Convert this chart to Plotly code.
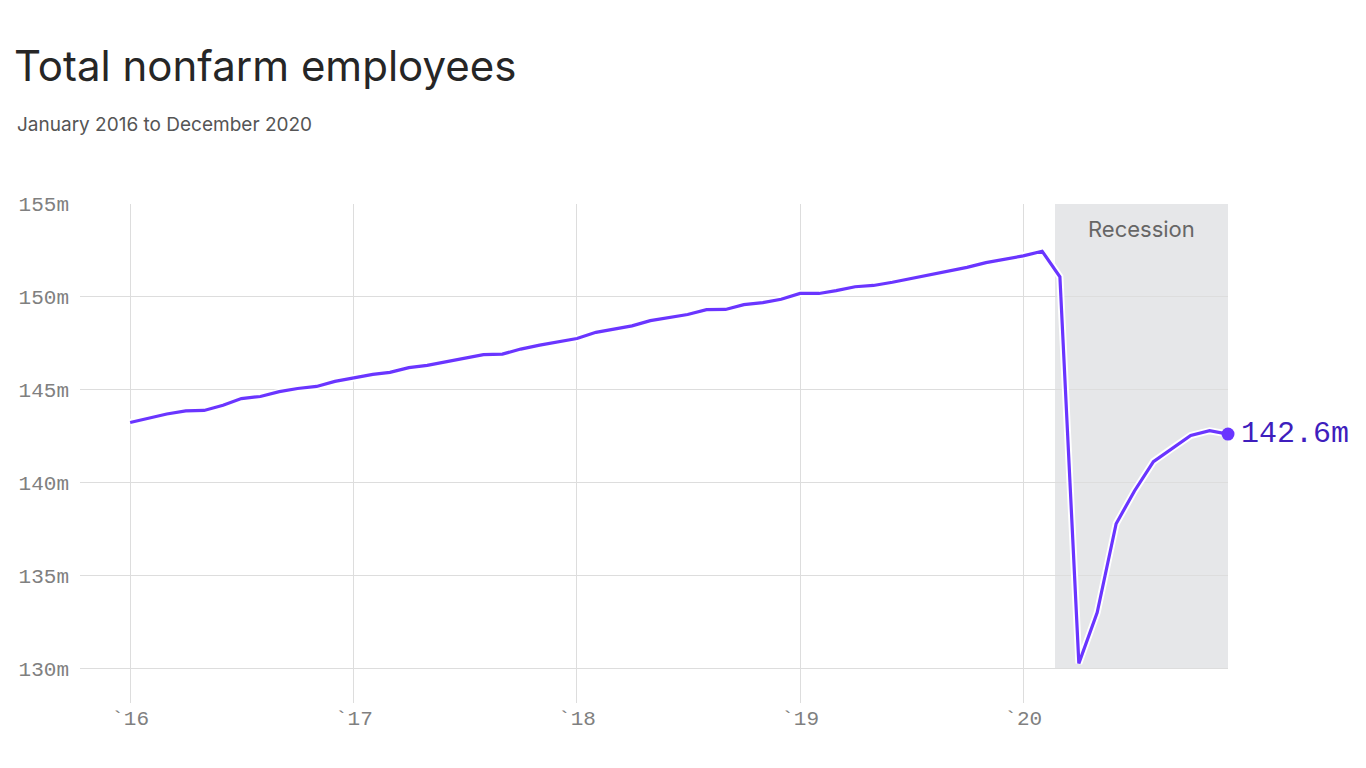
import pandas as pd
import plotly.graph_objects as go

# Monthly total nonfarm employees, millions, Jan 2016 - Dec 2020
months = pd.date_range("2016-01-01", "2020-12-01", freq="MS")
employees = [
    143.25, 143.47, 143.71, 143.88, 143.90, 144.18, 144.54, 144.65, 144.91, 145.08, 145.19, 145.46,
    145.65, 145.84, 145.95, 146.20, 146.32, 146.53, 146.71, 146.90, 146.93, 147.20, 147.41, 147.58,
    147.77, 148.10, 148.28, 148.45, 148.73, 148.90, 149.06, 149.32, 149.33, 149.59, 149.70, 149.88,
    150.19, 150.19, 150.34, 150.55, 150.62, 150.79, 150.98, 151.19, 151.40, 151.59, 151.85, 152.03,
    152.21, 152.46, 151.09, 130.30, 133.03, 137.81, 139.57, 141.15, 141.87, 142.55, 142.81, 142.63,
]
year_ticks = ["2016-01-01", "2017-01-01", "2018-01-01", "2019-01-01", "2020-01-01"]
year_labels = ["`16", "`17", "`18", "`19", "`20"]
y_ticks = [130, 135, 140, 145, 150, 155]
y_labels = ["130m", "135m", "140m", "145m", "150m", "155m"]
recession_start = "2020-02-22"
recession_end = "2020-12-01"
last_label = "142.6m"

LINE = "#6a35ff"
MONO = "Liberation Mono, DejaVu Sans Mono, monospace"
SANS = "Inter, Lato, Open Sans, sans-serif"

W, H = 1358, 760   # page adds an 8px body margin
fig = go.Figure()
fig.add_trace(go.Scatter(x=months, y=employees, mode="lines",
                         line=dict(color="white", width=7), cliponaxis=False,
                         hoverinfo="skip", showlegend=False))
fig.add_trace(go.Scatter(x=months, y=employees, mode="lines",
                         line=dict(color=LINE, width=3.2), cliponaxis=False,
                         showlegend=False))
fig.add_trace(go.Scatter(x=[months[-1]], y=[employees[-1]], mode="markers",
                         marker=dict(color=LINE, size=13, line=dict(color="white", width=0)),
                         cliponaxis=False, showlegend=False))

fig.add_shape(type="rect", xref="x", yref="y", x0=recession_start, x1=recession_end,
              y0=130, y1=155, fillcolor="#e6e7e9", line=dict(width=0), layer="below")

mid = pd.Timestamp(recession_start) + (pd.Timestamp(recession_end) - pd.Timestamp(recession_start)) / 2
fig.add_annotation(x=mid, y=153.65, xref="x", yref="y", text="Recession", showarrow=False,
                   font=dict(family=SANS, size=22, color="#666666"))
fig.add_annotation(x=months[-1], y=employees[-1], xref="x", yref="y", text=last_label,
                   showarrow=False, xanchor="left", xshift=11,
                   font=dict(family=MONO, size=30, color="#3f1ebd"))

fig.update_layout(
    width=W, height=H,
    margin=dict(l=72, r=138, t=196, b=65),
    paper_bgcolor="white", plot_bgcolor="white",
    title=dict(text="Total nonfarm employees", xref="container", x=6 / W, xanchor="left",
               yref="container", y=1 - 58 / H, yanchor="middle",
               font=dict(family=SANS, size=42, color="#262626")),
    showlegend=False,
)

fig.add_annotation(text="January 2016 to December 2020", xref="paper", yref="paper",
                   x=(15 - 80) / 1148, y=(703 - 124) / 499, xanchor="left", yanchor="middle",
                   showarrow=False, font=dict(family=SANS, size=19, color="#555555"))

fig.update_xaxes(range=["2015-10-11", "2020-12-01"], tickvals=year_ticks, ticktext=year_labels,
                 showgrid=True, gridcolor="#dddddd", gridwidth=1, zeroline=False, showline=False,
                 ticks="", ticklabelstandoff=0,
                 tickfont=dict(family=MONO, size=21, color="#808080"))
fig.update_yaxes(range=[128.17, 155], tickvals=y_ticks, ticktext=y_labels,
                 showgrid=True, gridcolor="#dddddd", gridwidth=1, zeroline=False, showline=False,
                 ticks="", ticklabelstandoff=10,
                 tickfont=dict(family=MONO, size=21, color="#808080"))

fig.write_html("out.html")
